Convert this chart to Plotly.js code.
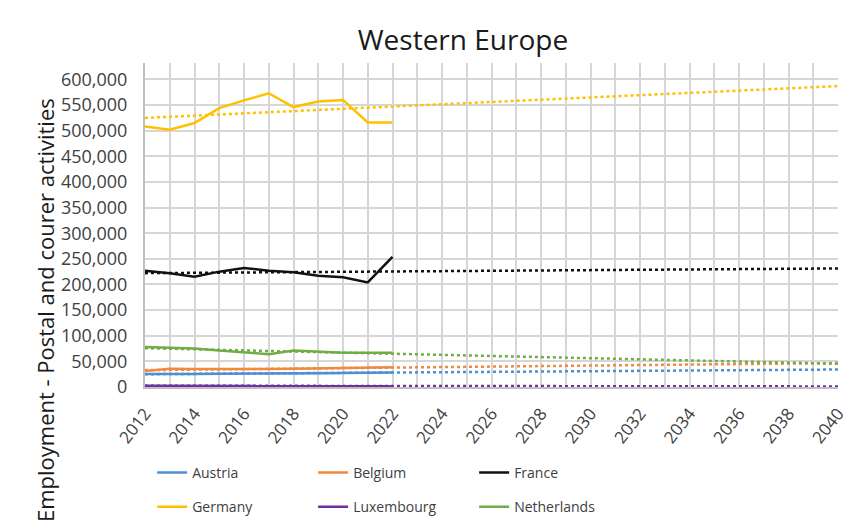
<!DOCTYPE html>
<html>
<head>
<meta charset="utf-8">
<script src="https://cdn.plot.ly/plotly-3.0.1.min.js"></script>
<style>html,body{margin:0;padding:0;background:#fff;}#chart{width:851px;height:530px;}</style>
</head>
<body>
<div id="chart"></div>
<script>
const years = [2012, 2013, 2014, 2015, 2016, 2017, 2018, 2019, 2020, 2021, 2022];
const trendEndYear = 2040;

const austria     = [25500, 25000, 25500, 26000, 26000, 26500, 27000, 27000, 27500, 28000, 28500];
const belgium     = [31000, 35500, 35000, 34500, 34500, 35000, 35500, 36000, 36500, 37500, 38500];
const france      = [227000, 222000, 215000, 225000, 232000, 227000, 224000, 217000, 214000, 204000, 254000];
const germany     = [508000, 502000, 515000, 544000, 559000, 573000, 546000, 557000, 560000, 516000, 516000];
const luxembourg  = [2500, 2500, 2400, 2400, 2400, 2300, 2300, 2300, 2200, 2200, 1800];
const netherlands = [78000, 77000, 75000, 71000, 67000, 64000, 71000, 69000, 67000, 67000, 67000];

const seriesNames  = ['Austria', 'Belgium', 'France', 'Germany', 'Luxembourg', 'Netherlands'];
const seriesValues = [austria, belgium, france, germany, luxembourg, netherlands];
const seriesColors = ['#4a8fd8', '#f08a3c', '#111111', '#ffc000', '#7030a0', '#70ad47'];
const legendGroup  = ['legend', 'legend', 'legend', 'legend2', 'legend2', 'legend2'];

// Linear (least squares) trendline, like the spreadsheet's trendline, extended to 2040
function linearTrend(xs, ys) {
  const n = xs.length;
  const mx = xs.reduce((a, b) => a + b, 0) / n;
  const my = ys.reduce((a, b) => a + b, 0) / n;
  let sxy = 0, sxx = 0;
  for (let i = 0; i < n; i++) { sxy += (xs[i] - mx) * (ys[i] - my); sxx += (xs[i] - mx) * (xs[i] - mx); }
  const slope = sxy / sxx;
  const x0 = xs[0], x1 = trendEndYear;
  return { x: [x0, x1], y: [my + slope * (x0 - mx), my + slope * (x1 - mx)] };
}

const traces = [];
seriesNames.forEach((name, i) => {
  const t = linearTrend(years, seriesValues[i]);
  traces.push({
    x: t.x, y: t.y, mode: 'lines', type: 'scatter', showlegend: false, hoverinfo: 'skip',
    line: { color: seriesColors[i], width: 2.5, dash: 'dot' }
  });
});
seriesNames.forEach((name, i) => {
  traces.push({
    x: years, y: seriesValues[i], mode: 'lines', type: 'scatter', name: name,
    legend: legendGroup[i],
    line: { color: seriesColors[i], width: 2.5 }
  });
});

const FONT = '"Open Sans", "Noto Sans", sans-serif';
const legendStyle = {
  orientation: 'h', x: 0.0103, xanchor: 'left', yref: 'container', yanchor: 'top',
  entrywidth: 116, entrywidthmode: 'pixels', bgcolor: 'rgba(0,0,0,0)',
  font: { size: 14, color: '#404040', family: FONT }, itemwidth: 30
};
const layout = {
  width: 851, height: 530,
  paper_bgcolor: '#ffffff', plot_bgcolor: '#ffffff',
  margin: { l: 145, r: 13, t: 63, b: 143 },
  font: { family: FONT, color: '#404040' },
  title: { text: 'Western Europe', x: 0.544, xref: 'container', y: 0.925, yref: 'container',
           xanchor: 'center', yanchor: 'middle', font: { size: 28, color: '#1a1a1a', family: FONT } },
  xaxis: {
    range: [2012, 2040], tick0: 2012, dtick: 2, tickangle: -52,
    showgrid: true, gridcolor: '#d6d6d6', gridwidth: 2,
    minor: { dtick: 1, showgrid: true, gridcolor: '#d6d6d6', gridwidth: 2 },
    showline: true, linecolor: '#bfbfbf', linewidth: 2, ticks: '', zeroline: false,
    automargin: false, ticklabelstandoff: 8,
    tickfont: { size: 17, color: '#404040', family: FONT }
  },
  yaxis: {
    range: [0, 632000], tick0: 0, dtick: 50000, tickformat: ',d',
    showgrid: true, gridcolor: '#d6d6d6', gridwidth: 2,
    showline: true, linecolor: '#bfbfbf', linewidth: 2, ticks: '', zeroline: false,
    automargin: false, ticklabelstandoff: 12,
    tickfont: { size: 18, color: '#404040', family: FONT }
  },
  legend: Object.assign({}, legendStyle, { y: 0.1377 }),
  legend2: Object.assign({}, legendStyle, { y: 0.0735 }),
  annotations: [{
    text: 'Employment - Postal and courer activities', textangle: -90,
    xref: 'paper', yref: 'paper', x: -0.144, y: 0.238, xanchor: 'center', yanchor: 'middle',
    showarrow: false, font: { size: 22, color: '#1a1a1a', family: FONT }
  }],
  showlegend: true
};

Plotly.newPlot('chart', traces, layout, { displayModeBar: false, staticPlot: true });
</script>
</body>
</html>
